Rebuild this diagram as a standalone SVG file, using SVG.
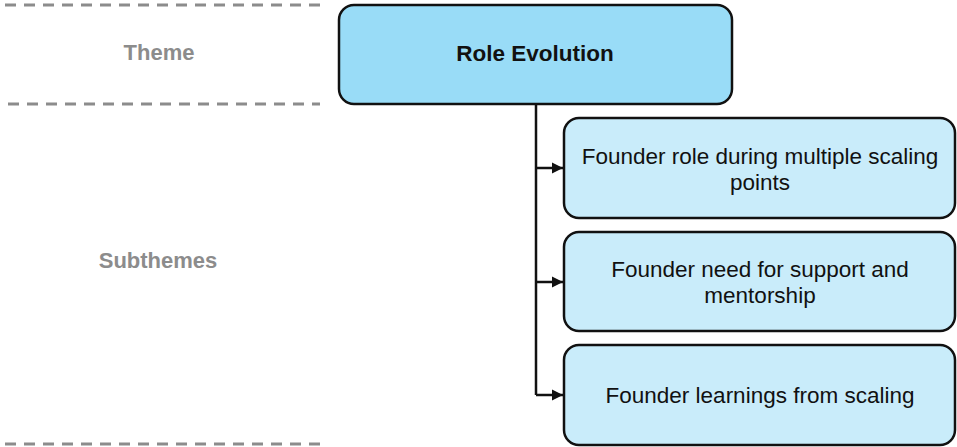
<svg xmlns="http://www.w3.org/2000/svg" width="957" height="447" viewBox="0 0 957 447">
  <defs>
    <style>
      .band { stroke: #8c8c8c; stroke-width: 3; stroke-dasharray: 11 8; fill: none; }
      .label { font-family: "Liberation Sans", Arial, sans-serif; font-size: 22px; font-weight: bold; fill: #8c8c8c; text-anchor: middle; }
      .main { fill: #99dcf7; stroke: #111; stroke-width: 2.5; }
      .sub { fill: #c9ecfa; stroke: #111; stroke-width: 2.5; }
      .txt { font-family: "Liberation Sans", Arial, sans-serif; font-size: 22.5px; fill: #111; text-anchor: middle; }
      .bold { font-weight: bold; }
      .conn { stroke: #111; stroke-width: 2.5; fill: none; }
    </style>
    <marker id="arrow" viewBox="0 0 10 10" refX="10" refY="5" markerWidth="4.5" markerHeight="4.5" orient="auto" markerUnits="strokeWidth">
      <path d="M0,0 L10,5 L0,10 z" fill="#111"/>
    </marker>
  </defs>

  <!-- band separators and row labels -->
  <g id="bands">
    <line class="band" x1="5" y1="5" x2="320" y2="5"/>
    <line class="band" x1="8" y1="104" x2="320" y2="104"/>
    <line class="band" x1="5" y1="444" x2="320" y2="444"/>
    <text class="label" x="159" y="60">Theme</text>
    <text class="label" x="158" y="268">Subthemes</text>
  </g>

  <!-- connectors -->
  <g id="connectors">
    <path class="conn" d="M536,104 V395"/>
    <path class="conn" d="M536,168 H563" marker-end="url(#arrow)"/>
    <path class="conn" d="M536,282 H563" marker-end="url(#arrow)"/>
    <path class="conn" d="M536,395 H563" marker-end="url(#arrow)"/>
  </g>

  <g id="node-role-evolution">
    <rect class="main" x="339" y="5" width="393" height="99" rx="15" ry="15"/>
    <text class="txt bold" x="535" y="61">Role Evolution</text>
  </g>

  <g id="node-scaling-points">
    <rect class="sub" x="564" y="118" width="391" height="100" rx="15" ry="15"/>
    <text class="txt" x="760" y="164">Founder role during multiple scaling</text>
    <text class="txt" x="760" y="190">points</text>
  </g>

  <g id="node-support">
    <rect class="sub" x="564" y="232" width="391" height="99" rx="15" ry="15"/>
    <text class="txt" x="760" y="277">Founder need for support and</text>
    <text class="txt" x="760" y="303">mentorship</text>
  </g>

  <g id="node-learnings">
    <rect class="sub" x="564" y="345" width="391" height="100" rx="15" ry="15"/>
    <text class="txt" x="760" y="403">Founder learnings from scaling</text>
  </g>
</svg>
